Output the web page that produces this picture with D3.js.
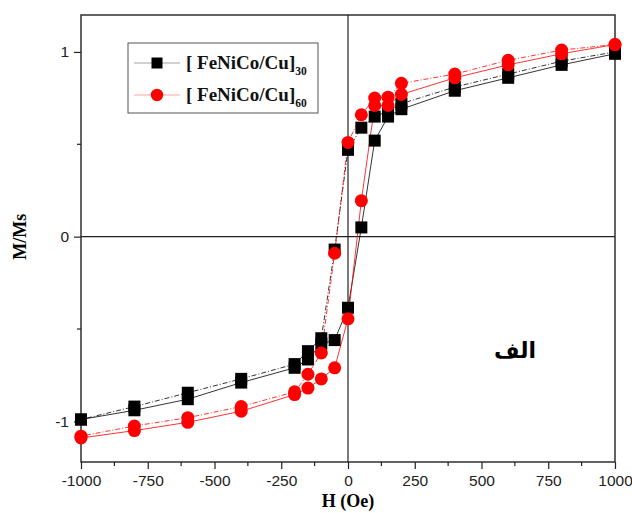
<!DOCTYPE html>
<html>
<head>
<meta charset="utf-8">
<script src="https://cdn.jsdelivr.net/npm/d3@7"></script>
<style>
  body { margin: 0; background: #fff; }
  svg { display: block; }
</style>
</head>
<body>
<div id="graph"></div>
<script>
// applied field (Oe), descending branch then ascending branch
var fieldDown = [1000, 800, 600, 400, 200, 150, 100, 50, 0, -50, -100, -150, -200, -400, -600, -800, -1000];
var fieldUp = [-1000, -800, -600, -400, -200, -150, -100, -50, 0, 50, 100, 150, 200, 400, 600, 800, 1000];

// [FeNiCo/Cu]30
var m30Down = [1.0, 0.95, 0.88, 0.81, 0.72, 0.68, 0.65, 0.59, 0.47, -0.07, -0.55, -0.62, -0.69, -0.77, -0.845, -0.92, -0.99];
var m30Up = [-0.99, -0.94, -0.88, -0.79, -0.71, -0.665, -0.58, -0.56, -0.385, 0.05, 0.52, 0.65, 0.69, 0.79, 0.86, 0.93, 0.99];

// [FeNiCo/Cu]60
var m60Down = [1.04, 1.01, 0.955, 0.88, 0.83, 0.755, 0.75, 0.66, 0.51, -0.09, -0.63, -0.745, -0.84, -0.92, -0.98, -1.025, -1.08];
var m60Up = [-1.09, -1.05, -1.005, -0.945, -0.855, -0.82, -0.77, -0.71, -0.445, 0.195, 0.71, 0.71, 0.77, 0.86, 0.93, 0.99, 1.04];

var xTicks = [-1000, -750, -500, -250, 0, 250, 500, 750, 1000];
var yTicks = [-1, 0, 1];
var legendNames = ["30", "60"];

var width = 632, height = 513;
var plotLeft = 81, plotRight = 615, plotTop = 15, plotBottom = 462;

var svg = d3.select("#graph").append("svg")
    .attr("width", width)
    .attr("height", height);

var x = d3.scaleLinear().domain([-1000, 1000]).range([plotLeft, plotRight]);
var y = d3.scaleLinear().domain([-1.22, 1.2]).range([plotBottom, plotTop]);

// zero lines
svg.append("line").attr("x1", x(0)).attr("x2", x(0)).attr("y1", plotTop).attr("y2", plotBottom)
    .attr("stroke", "#222").attr("stroke-width", 1.2);
svg.append("line").attr("x1", plotLeft).attr("x2", plotRight).attr("y1", y(0)).attr("y2", y(0))
    .attr("stroke", "#222").attr("stroke-width", 1.2);

// frame
svg.append("rect").attr("x", plotLeft).attr("y", plotTop)
    .attr("width", plotRight - plotLeft).attr("height", plotBottom - plotTop)
    .attr("fill", "none").attr("stroke", "#222").attr("stroke-width", 1.4);

// x axis
var xAxis = d3.axisBottom(x).tickValues(xTicks).tickSize(7).tickPadding(6)
    .tickFormat(function(d) { return String(d); });
var gx = svg.append("g").attr("transform", "translate(0," + plotBottom + ")").call(xAxis);
var xMinor = d3.range(-875, 1000, 250);
gx.selectAll(".minor").data(xMinor).enter().append("line")
    .attr("x1", function(d) { return x(d); }).attr("x2", function(d) { return x(d); })
    .attr("y1", 0).attr("y2", 4).attr("stroke", "#222").attr("stroke-width", 1.2);

// y axis
var yAxis = d3.axisLeft(y).tickValues(yTicks).tickSize(7).tickPadding(5)
    .tickFormat(function(d) { return String(d); });
var gy = svg.append("g").attr("transform", "translate(" + plotLeft + ",0)").call(yAxis);
gy.selectAll(".minor").data([-0.5, 0.5]).enter().append("line")
    .attr("x1", 0).attr("x2", -4)
    .attr("y1", function(d) { return y(d); }).attr("y2", function(d) { return y(d); })
    .attr("stroke", "#222").attr("stroke-width", 1.2);

svg.selectAll(".domain").remove();
svg.selectAll(".tick line").attr("stroke", "#222").attr("stroke-width", 1.2);
svg.selectAll(".tick text")
    .attr("font-family", "Liberation Sans, Arial, sans-serif")
    .attr("font-size", 15.5)
    .attr("fill", "#222");

// axis titles
svg.append("text")
    .attr("x", x(0)).attr("y", 507)
    .attr("text-anchor", "middle")
    .attr("font-family", "Liberation Serif, Times New Roman, serif")
    .attr("font-weight", "bold").attr("font-size", 18)
    .text("H (Oe)");

svg.append("text")
    .attr("transform", "translate(26," + y(0) + ") rotate(-90)")
    .attr("text-anchor", "middle")
    .attr("font-family", "Liberation Serif, Times New Roman, serif")
    .attr("font-weight", "bold").attr("font-size", 18)
    .text("M/Ms");

// series
function pairs(xs, ys) {
    return xs.map(function(d, i) { return { h: d, m: ys[i] }; });
}

var series = [
    { color: "#000", shape: "square", down: pairs(fieldDown, m30Down), up: pairs(fieldUp, m30Up) },
    { color: "#ff0000", shape: "circle", down: pairs(fieldDown, m60Down), up: pairs(fieldUp, m60Up) }
];

var line = d3.line().x(function(d) { return x(d.h); }).y(function(d) { return y(d.m); });

series.forEach(function(s) {
    svg.append("path").datum(s.down).attr("d", line)
        .attr("fill", "none").attr("stroke", s.color).attr("stroke-width", 0.8)
        .attr("stroke-dasharray", "5,2,1,2");
    svg.append("path").datum(s.up).attr("d", line)
        .attr("fill", "none").attr("stroke", s.color).attr("stroke-width", 0.8);
});

function drawMarkers(s, data) {
    if (s.shape === "square") {
        svg.append("g").selectAll("rect").data(data).enter().append("rect")
            .attr("x", function(d) { return x(d.h) - 6; })
            .attr("y", function(d) { return y(d.m) - 6; })
            .attr("width", 12).attr("height", 12)
            .attr("fill", s.color);
    } else {
        svg.append("g").selectAll("circle").data(data).enter().append("circle")
            .attr("cx", function(d) { return x(d.h); })
            .attr("cy", function(d) { return y(d.m); })
            .attr("r", 6.5)
            .attr("fill", s.color);
    }
}
series.forEach(function(s) {
    drawMarkers(s, s.down);
    drawMarkers(s, s.up);
});

// legend
var lg = svg.append("g");
lg.append("rect").attr("x", 128).attr("y", 43).attr("width", 190).attr("height", 70)
    .attr("fill", "#fff").attr("stroke", "#555").attr("stroke-width", 1);
series.forEach(function(s, i) {
    var ly = 63 + i * 32;
    lg.append("line").attr("x1", 134).attr("x2", 180).attr("y1", ly).attr("y2", ly)
        .attr("stroke", s.color).attr("stroke-width", 0.6).attr("opacity", 0.6);
    if (s.shape === "square") {
        lg.append("rect").attr("x", 157 - 5.5).attr("y", ly - 5.5).attr("width", 11).attr("height", 11).attr("fill", s.color);
    } else {
        lg.append("circle").attr("cx", 157).attr("cy", ly).attr("r", 6.2).attr("fill", s.color);
    }
    var t = lg.append("text").attr("x", 186).attr("y", ly + 6)
        .attr("font-family", "Liberation Serif, Times New Roman, serif")
        .attr("font-weight", "bold").attr("font-size", 19).attr("fill", "#111");
    t.append("tspan").text("[ FeNiCo/Cu]");
    t.append("tspan").attr("dy", 6).attr("font-size", 11.5).text(legendNames[i]);
});

// panel label
svg.append("text")
    .attr("x", 515).attr("y", 358)
    .attr("text-anchor", "middle")
    .attr("font-family", "DejaVu Sans, sans-serif")
    .attr("font-weight", "bold").attr("font-size", 22)
    .attr("direction", "rtl")
    .text("الف");
</script>
</body>
</html>
